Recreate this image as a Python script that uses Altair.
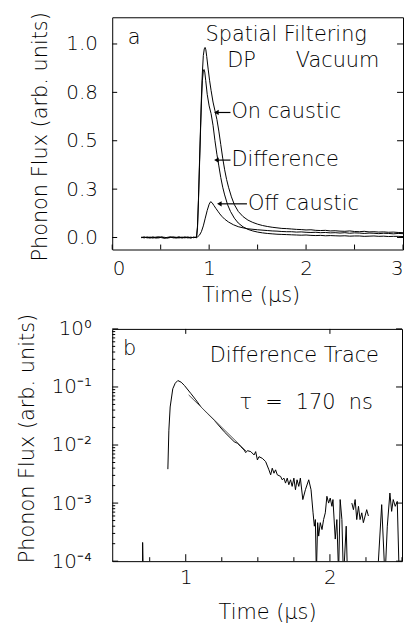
import altair as alt
import pandas as pd

FONT = "DejaVu Sans"
FW = 200

# ---------------- Panel a data ----------------
base_t = [0.30, 0.33, 0.36, 0.39, 0.42, 0.45, 0.48, 0.51, 0.54, 0.57,
          0.60, 0.63, 0.66, 0.69, 0.72, 0.75, 0.78, 0.81, 0.84, 0.87]
on_base = [0.002, -0.002, 0.003, 0.000, -0.003, 0.002, 0.004, -0.001, -0.004, 0.001,
           0.003, -0.002, 0.000, 0.004, -0.003, 0.001, -0.002, 0.002, -0.001, 0.003]
diff_base = [0.000, 0.003, -0.002, 0.002, 0.001, -0.003, 0.000, 0.003, -0.002, -0.001,
             0.002, 0.001, -0.003, 0.000, 0.002, -0.002, 0.003, -0.001, 0.001, 0.000]
off_base = [-0.001, 0.001, 0.000, -0.003, 0.003, 0.000, -0.002, 0.002, 0.001, -0.003,
            0.000, 0.003, 0.001, -0.002, 0.000, 0.003, 0.000, -0.003, 0.002, -0.001]

on_peak_t = [0.88, 0.89, 0.90, 0.91, 0.92, 0.93, 0.94, 0.95, 0.958, 0.966, 0.975, 0.99,
             1.005, 1.02, 1.04, 1.06, 1.08, 1.10, 1.12, 1.14, 1.16, 1.18, 1.20, 1.23,
             1.26, 1.30, 1.35, 1.40, 1.45, 1.50, 1.55, 1.60]
on_peak_v = [0.06, 0.20, 0.38, 0.55, 0.72, 0.85, 0.94, 0.975, 0.982, 0.97, 0.935, 0.87,
             0.81, 0.76, 0.70, 0.655, 0.61, 0.55, 0.48, 0.41, 0.35, 0.30, 0.26, 0.21,
             0.17, 0.135, 0.108, 0.090, 0.078, 0.069, 0.062, 0.057]

diff_peak_t = [0.88, 0.89, 0.90, 0.91, 0.92, 0.93, 0.94, 0.947, 0.955, 0.965, 0.98, 1.00,
               1.02, 1.04, 1.06, 1.08, 1.10, 1.12, 1.14, 1.16, 1.19, 1.22, 1.26, 1.30,
               1.35, 1.40, 1.45, 1.50, 1.55, 1.60]
diff_peak_v = [0.05, 0.19, 0.36, 0.53, 0.69, 0.81, 0.86, 0.868, 0.855, 0.81, 0.74, 0.68,
               0.64, 0.58, 0.50, 0.43, 0.37, 0.31, 0.26, 0.22, 0.17, 0.135, 0.10, 0.075,
               0.055, 0.042, 0.034, 0.028, 0.024, 0.021]

off_peak_t = [0.88, 0.90, 0.92, 0.94, 0.96, 0.98, 1.00, 1.015, 1.03, 1.05, 1.07, 1.09,
              1.11, 1.13, 1.16, 1.20, 1.25, 1.30, 1.35, 1.40, 1.50, 1.60]
off_peak_v = [0.003, 0.012, 0.03, 0.06, 0.10, 0.14, 0.172, 0.185, 0.180, 0.165, 0.150, 0.136,
              0.122, 0.110, 0.095, 0.080, 0.066, 0.056, 0.050, 0.045, 0.040, 0.036]

tail_t = [1.65, 1.70, 1.75, 1.80, 1.85, 1.90, 1.95, 2.00, 2.05, 2.10, 2.15, 2.20, 2.25, 2.30,
          2.35, 2.40, 2.45, 2.50, 2.55, 2.60, 2.65, 2.70, 2.75, 2.80, 2.85, 2.90, 2.95, 3.00]
on_tail = [0.053, 0.050, 0.047, 0.046, 0.044, 0.042, 0.041, 0.039, 0.040, 0.037, 0.036, 0.037,
           0.034, 0.035, 0.033, 0.032, 0.034, 0.031, 0.030, 0.032, 0.029, 0.030, 0.028, 0.029,
           0.027, 0.028, 0.026, 0.025]
off_tail = [0.034, 0.033, 0.031, 0.030, 0.030, 0.028, 0.029, 0.027, 0.026, 0.027, 0.025, 0.026,
            0.024, 0.025, 0.023, 0.025, 0.022, 0.024, 0.023, 0.021, 0.023, 0.022, 0.020, 0.022,
            0.021, 0.019, 0.021, 0.020]
diff_tail = [0.019, 0.017, 0.016, 0.015, 0.014, 0.013, 0.012, 0.013, 0.011, 0.010, 0.011, 0.009,
             0.010, 0.009, 0.008, 0.009, 0.007, 0.008, 0.008, 0.006, 0.007, 0.008, 0.006, 0.007,
             0.005, 0.006, 0.006, 0.005]

a_yticks = [0, 0.25, 0.5, 0.75, 1.0]
a_ylabels = ["0.0", "0.3", "0.5", "0.8", "1.0"]
a_xticks = [0, 1, 2, 3]
a_xminor = [0, 0.5, 1, 1.5, 2, 2.5, 3]

a_notes = ["a", "Spatial Filtering", "DP", "Vacuum", "On caustic", "Difference", "Off caustic"]
a_note_t = [0.16, 0.962, 1.187, 1.894, 1.23, 1.23, 1.40]
a_note_v = [1.03, 1.045, 0.91, 0.91, 0.646, 0.40, 0.174]

arrow_from_t = [1.22, 1.22, 1.39]
arrow_to_t = [1.075, 1.075, 1.105]
arrow_v = [0.646, 0.40, 0.174]

# ---------------- Panel b data ----------------
b1_t = [0.876, 0.883, 0.892, 0.910, 0.927, 0.945, 0.968, 0.991, 1.037, 1.07, 1.106, 1.15,
        1.198, 1.267, 1.336, 1.359, 1.382, 1.405, 1.416, 1.428, 1.451, 1.474, 1.485, 1.497,
        1.508, 1.531, 1.554, 1.577, 1.589, 1.600, 1.612, 1.623, 1.635, 1.658, 1.669, 1.681,
        1.692, 1.704, 1.715, 1.727, 1.738, 1.750, 1.761, 1.772, 1.784, 1.795, 1.812, 1.830,
        1.853, 1.869, 1.883, 1.892, 1.899, 1.906, 1.915, 1.922, 1.933, 1.945, 1.956, 1.968,
        1.979, 1.991, 2.002, 2.014, 2.021, 2.037, 2.048, 2.060, 2.071, 2.083, 2.094, 2.113,
        2.122]
b1_v = [0.00384, 0.0180, 0.0452, 0.093, 0.116, 0.129, 0.121, 0.106, 0.0764, 0.060, 0.0452, 0.035,
        0.0267, 0.0169, 0.0114, 0.0107, 0.00935, 0.0082, 0.0074, 0.0080, 0.0077, 0.00675, 0.0077, 0.00554,
        0.0063, 0.0059, 0.0052, 0.00374, 0.00307, 0.00399, 0.00327, 0.00374, 0.00307, 0.00288, 0.00252, 0.00269,
        0.00221, 0.00269, 0.00207, 0.00252, 0.00194, 0.00269, 0.00170, 0.00252, 0.00194, 0.00269, 0.00115, 0.00170,
        0.00252, 0.00170, 0.00068, 0.00040, 0.00052, 0.00006, 0.00046, 0.00027, 0.00046, 0.00035, 0.00052, 0.00068,
        0.00131, 0.00100, 0.00122, 0.00088, 0.00115, 0.00024, 0.00052, 0.00006, 0.00115, 0.00052, 0.00005, 0.00040,
        0.00005]
b2_t = [2.152, 2.163, 2.175, 2.186, 2.198, 2.209, 2.221, 2.232, 2.244, 2.255, 2.267]
b2_v = [0.00100, 0.00077, 0.00115, 0.00052, 0.00088, 0.00052, 0.00068, 0.00046, 0.00060, 0.00077, 0.00060]
b3_t = [2.329, 2.359, 2.382, 2.398, 2.416, 2.428, 2.439, 2.453, 2.467, 2.481]
b3_v = [0.00005, 0.00094, 0.00005, 0.00040, 0.00149, 0.00072, 0.00115, 0.00088, 0.00107, 0.00005]
b4_t = [0.700, 0.701, 0.706]
b4_v = [0.00005, 0.00021, 0.00005]
fit_t = [1.02, 1.42]
fit_v = [0.073, 0.0078]

b_yticks = [1, 0.1, 0.01, 0.001, 0.0001]
b_ylabels = ["10\u2070", "10\u207b\u00b9", "10\u207b\u00b2", "10\u207b\u00b3", "10\u207b\u2074"]
b_xticks = [1, 2]
b_xminor = [0.75, 1.25, 1.5, 1.75, 2.25, 2.5]
b_yminor = [m * d for d in [0.0001, 0.001, 0.01, 0.1] for m in [2, 3, 4, 5, 6, 7, 8, 9]]

b_notes = ["b", "Difference Trace", "\u03c4\u00a0\u00a0=\u00a0\u00a0170\u00a0\u00a0ns"]
b_note_t = [0.565, 1.166, 1.372]
b_note_v = [0.455, 0.346, 0.052]

# ---------------- build tables ----------------
def series(name, ts, vs):
    return pd.DataFrame({"t": ts, "v": vs, "series": name, "i": range(len(ts))})

df_a = pd.concat([
    series("on", base_t + on_peak_t + tail_t, on_base + on_peak_v + on_tail),
    series("diff", base_t + diff_peak_t + tail_t, diff_base + diff_peak_v + diff_tail),
    series("off", base_t + off_peak_t + tail_t, off_base + off_peak_v + off_tail),
])
df_b = pd.concat([
    series("s1", b1_t, b1_v), series("s2", b2_t, b2_v),
    series("s3", b3_t, b3_v), series("s4", b4_t, b4_v),
])
df_fit = series("fit", fit_t, fit_v)

WA, HA = 293, 234
WB, HB = 292, 234
NOTE_FS = 21

def label_expr(vals, labs):
    parts = []
    for v, l in zip(vals, labs):
        parts.append(f"abs(datum.value - {v}) < {abs(v) * 0.01 + 1e-9} ? '{l}'")
    return " : ".join(parts) + " : ''"

TITLE_Y = "Phonon Flux (arb. units)"
TITLE_X = "Time (\u03bcs)"

# ---------------- Panel a ----------------
ax_ax = alt.Axis(values=a_xticks, format="d", title=TITLE_X, labelPadding=9, titlePadding=6,
                 titleX=WA / 2 - 7)
ax_ay = alt.Axis(values=a_yticks, labelExpr=label_expr(a_yticks, a_ylabels),
                 title=TITLE_Y, labelPadding=15, titlePadding=15, titleY=HA / 2 + 3)
sc_ax = alt.Scale(domain=[0, 3], nice=False, zero=False)
sc_ay = alt.Scale(domain=[-0.062, 1.138], nice=False, zero=False)

def XA(f="t"):
    return alt.X(f"{f}:Q", scale=sc_ax, axis=ax_ax, title=TITLE_X)

def YA(f="v"):
    return alt.Y(f"{f}:Q", scale=sc_ay, axis=ax_ay, title=TITLE_Y)

lines_a = alt.Chart(df_a).mark_line(color="black", strokeWidth=1, clip=True).encode(
    x=XA(), y=YA(), detail="series:N", order="i:Q")

xt_a = pd.DataFrame({"t": a_xminor})
yt_a = pd.DataFrame({"v": a_yticks})
ticks_a = [
    alt.Chart(xt_a).mark_rule(color="black", strokeWidth=1).encode(
        x=XA(), y=alt.value(HA), y2=alt.value(HA - 5)),
    alt.Chart(yt_a).mark_rule(color="black", strokeWidth=1).encode(
        y=YA(), x=alt.value(0), x2=alt.value(5)),
    alt.Chart(yt_a).mark_rule(color="black", strokeWidth=1).encode(
        y=YA(), x=alt.value(WA), x2=alt.value(WA - 6)),
]

notes_a = alt.Chart(pd.DataFrame({"t": a_note_t, "v": a_note_v, "label": a_notes})).mark_text(
    align="left", baseline="middle", font=FONT, fontSize=NOTE_FS, fontWeight=FW, color="black"
).encode(x=XA(), y=YA(), text="label:N")

arr_df = pd.DataFrame({"t": arrow_from_t, "t2": arrow_to_t, "v": arrow_v})
arrows = alt.Chart(arr_df).mark_rule(color="black", strokeWidth=1.2).encode(
    x=XA(), x2="t2:Q", y=YA())
heads = alt.Chart(arr_df).mark_point(shape="triangle-left", filled=True, size=28,
                                     color="black", opacity=1).encode(
    x=XA("t2"), y=YA())

panel_a = alt.layer(lines_a, *ticks_a, notes_a, arrows, heads).properties(width=WA, height=HA)

# ---------------- Panel b ----------------
ax_bx = alt.Axis(values=b_xticks, format="d", title=TITLE_X, labelPadding=7, titlePadding=14,
                 titleX=WB / 2 + 10)
ax_by = alt.Axis(values=b_yticks, labelExpr=label_expr(b_yticks, b_ylabels),
                 title=TITLE_Y, labelPadding=21, titlePadding=14, titleY=HB / 2 - 7)
sc_bx = alt.Scale(domain=[0.49, 2.5], nice=False, zero=False)
sc_by = alt.Scale(type="log", domain=[0.0001, 1], nice=False)

def XB(f="t"):
    return alt.X(f"{f}:Q", scale=sc_bx, axis=ax_bx, title=TITLE_X)

def YB(f="v"):
    return alt.Y(f"{f}:Q", scale=sc_by, axis=ax_by, title=TITLE_Y)

lines_b = alt.Chart(df_b).mark_line(color="black", strokeWidth=1, clip=True).encode(
    x=XB(), y=YB(), detail="series:N", order="i:Q")
fit_b = alt.Chart(df_fit).mark_line(color="#555555", strokeWidth=1, clip=True).encode(
    x=XB(), y=YB(), order="i:Q")

ticks_b = [
    alt.Chart(pd.DataFrame({"t": b_xticks})).mark_rule(color="black").encode(
        x=XB(), y=alt.value(HB), y2=alt.value(HB - 7)),
    alt.Chart(pd.DataFrame({"t": b_xminor})).mark_rule(color="black").encode(
        x=XB(), y=alt.value(HB), y2=alt.value(HB - 4)),
    alt.Chart(pd.DataFrame({"t": b_xticks})).mark_rule(color="black").encode(
        x=XB(), y=alt.value(0), y2=alt.value(5)),
    alt.Chart(pd.DataFrame({"v": b_yticks})).mark_rule(color="black").encode(
        y=YB(), x=alt.value(0), x2=alt.value(6)),
    alt.Chart(pd.DataFrame({"v": b_yminor})).mark_rule(color="black").encode(
        y=YB(), x=alt.value(0), x2=alt.value(3)),
    alt.Chart(pd.DataFrame({"v": b_yticks})).mark_rule(color="black").encode(
        y=YB(), x=alt.value(WB), x2=alt.value(WB - 6)),
]

notes_b = alt.Chart(pd.DataFrame({"t": b_note_t, "v": b_note_v, "label": b_notes})).mark_text(
    align="left", baseline="middle", font=FONT, fontSize=NOTE_FS, fontWeight=FW, color="black"
).encode(x=XB(), y=YB(), text="label:N")

panel_b = alt.layer(lines_b, fit_b, *ticks_b, notes_b).properties(width=WB, height=HB)

chart = alt.vconcat(panel_a, panel_b, spacing=6).properties(
    padding={"left": 8, "top": 0, "right": 0, "bottom": 0},
    background="white",
).configure_view(stroke="black", strokeWidth=1).configure_axis(
    domain=False, ticks=False, grid=False,
    labelFont=FONT, titleFont=FONT, labelFontSize=20, titleFontSize=21,
    labelFontWeight=FW, titleFontWeight=FW, labelColor="black", titleColor="black",
)

chart.save("out.html", embed_options={"renderer": "svg", "actions": False})
